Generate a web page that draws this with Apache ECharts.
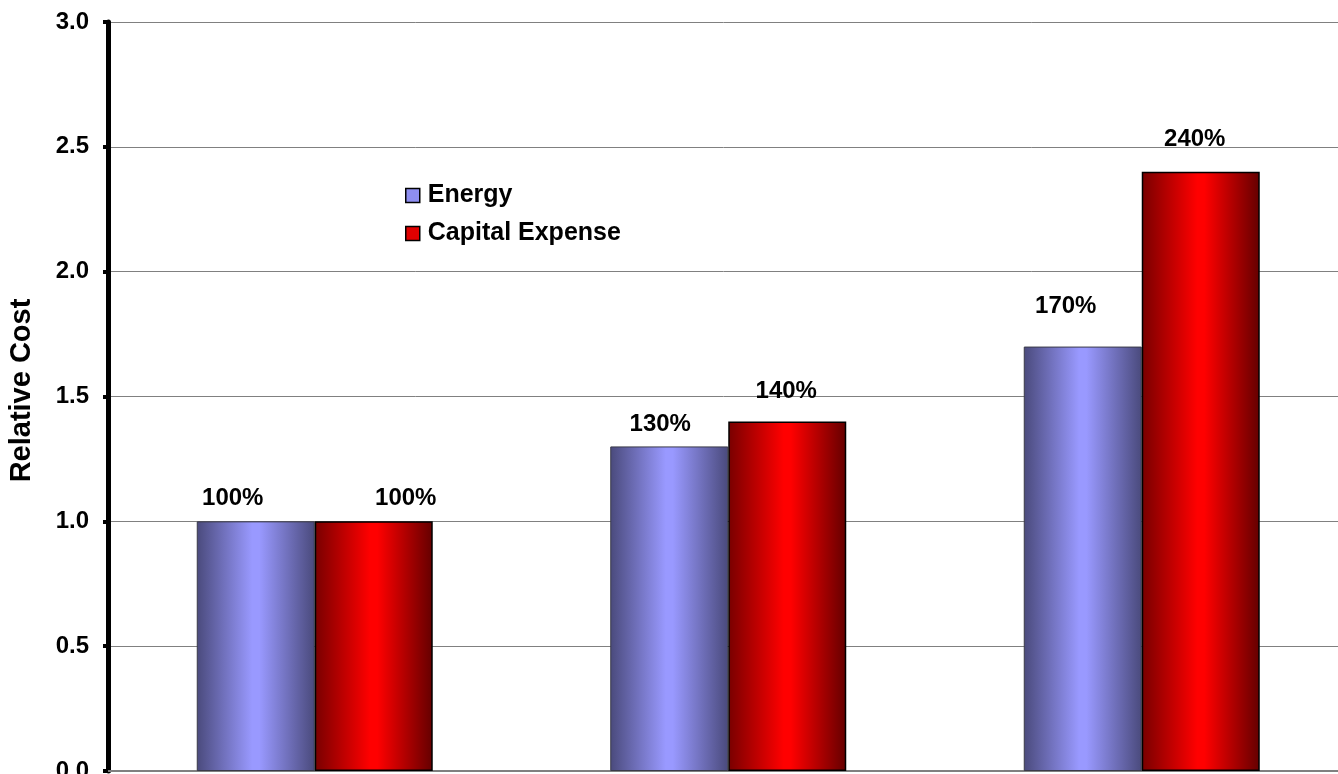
<!DOCTYPE html>
<html>
<head>
<meta charset="utf-8">
<title>Relative Cost</title>
<script src="https://cdn.jsdelivr.net/npm/echarts@6/dist/echarts.min.js"></script>
<style>
  html, body { margin: 0; padding: 0; background: #ffffff; }
  #chart { width: 1338px; height: 774px; }
</style>
</head>
<body>
<div id="chart"></div>
<script>
// Chart data
const categories = ['A', 'B', 'C'];
const energy = [1.0, 1.3, 1.7];
const capitalExpense = [1.0, 1.4, 2.4];
const yTicks = [0, 0.5, 1.0, 1.5, 2.0, 2.5, 3.0];

// Hand-placed value label nudges [dx, dy]
const energyLabelShift = [[-23, -11], [-9, -10], [-17, -28]];
const capitalLabelShift = [[32, -11], [-1, -18], [-6, -20]];

const FONT = '"Liberation Sans", Arial, Helvetica, sans-serif';

function barGradient(edgeL, mid, edgeR) {
  return new echarts.graphic.LinearGradient(0, 0, 1, 0, [
    { offset: 0, color: edgeL },
    { offset: 0.47, color: mid },
    { offset: 0.53, color: mid },
    { offset: 1, color: edgeR }
  ]);
}

function valueData(values, shifts) {
  return values.map((v, i) => ({
    value: v,
    label: { offset: shifts[i] }
  }));
}

const labelStyle = {
  show: true,
  position: 'top',
  distance: 0,
  fontFamily: FONT,
  fontWeight: 'bold',
  fontSize: 24,
  color: '#000000',
  formatter: p => Math.round(p.value * 100) + '%'
};

const chart = echarts.init(document.getElementById('chart'), null, { renderer: 'canvas' });

chart.setOption({
  animation: false,
  backgroundColor: '#ffffff',
  grid: {
    left: 108, right: -10.5, top: 22, bottom: 3,
    containLabel: false,
    outerBoundsMode: 'none'
  },
  legend: {
    orient: 'vertical',
    left: 400,
    top: 178,
    itemWidth: 14,
    itemHeight: 14,
    itemGap: 13,
    icon: 'rect',
    textStyle: { fontFamily: FONT, fontWeight: 'bold', fontSize: 25, color: '#000000', padding: [0, 0, 0, 3] },
    data: [
      { name: 'Energy', itemStyle: { color: '#8e8ef0', borderColor: '#000000', borderWidth: 1.5 } },
      { name: 'Capital Expense', itemStyle: { color: '#e00000', borderColor: '#000000', borderWidth: 1.5 } }
    ]
  },
  xAxis: {
    type: 'category',
    data: categories,
    axisLine: { show: true, lineStyle: { color: '#808080', width: 2 } },
    axisTick: { show: false },
    axisLabel: { show: false },
    splitLine: { show: false }
  },
  yAxis: {
    type: 'value',
    min: yTicks[0],
    max: yTicks[yTicks.length - 1],
    interval: 0.5,
    name: 'Relative Cost',
    nameLocation: 'middle',
    nameGap: 72,
    nameRotate: 90,
    nameTextStyle: {
      fontFamily: FONT, fontWeight: 'bold', fontSize: 29, color: '#000000',
      padding: [0, 0, 0, 12]
    },
    axisLine: { show: true, lineStyle: { color: '#000000', width: 5 } },
    axisTick: { show: true, length: 5, lineStyle: { color: '#000000', width: 4 } },
    axisLabel: {
      margin: 19,
      fontFamily: FONT,
      fontWeight: 'bold',
      fontSize: 24,
      color: '#000000',
      formatter: v => v.toFixed(1)
    },
    splitLine: { show: true, lineStyle: { color: '#808080', width: 1 } }
  },
  series: [
    {
      name: 'Energy',
      type: 'bar',
      barWidth: 118,
      barGap: '0%',
      data: valueData(energy, energyLabelShift),
      itemStyle: {
        color: barGradient('#4a4a7c', '#9999ff', '#4a4a7c'),
        borderColor: '#3a3a48',
        borderWidth: 1
      },
      label: labelStyle
    },
    {
      name: 'Capital Expense',
      type: 'bar',
      barWidth: 118,
      barGap: '0%',
      data: valueData(capitalExpense, capitalLabelShift),
      itemStyle: {
        color: barGradient('#780000', '#ff0000', '#640000'),
        borderColor: '#000000',
        borderWidth: 1.5
      },
      label: labelStyle
    }
  ]
});
</script>
</body>
</html>
